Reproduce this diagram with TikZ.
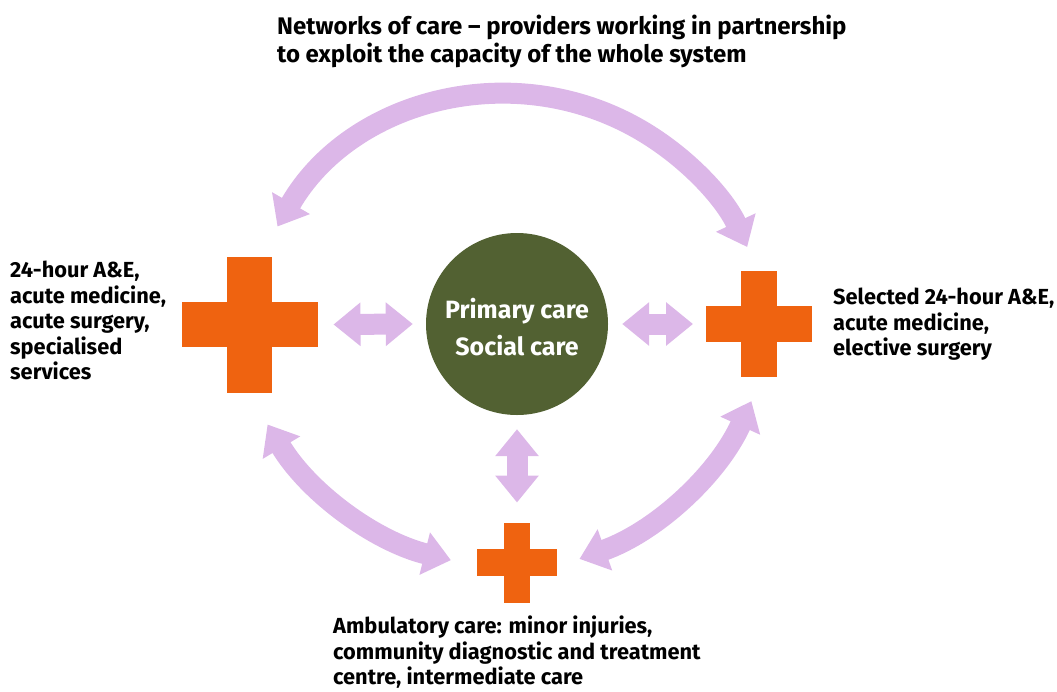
\documentclass[tikz,border=0pt]{standalone}
\usepackage{fontspec}
\setmainfont{Fira Sans}
\usetikzlibrary{arrows.meta,calc}
\definecolor{lilac}{RGB}{220,183,232}
\definecolor{crossorange}{RGB}{239,99,16}
\definecolor{olivegreen}{RGB}{82,97,50}
\newcommand\fillcross[1]{%
  \fill[crossorange] ($(#1.south west)!0.3333!(#1.south east)$) rectangle ($(#1.north west)!0.6667!(#1.north east)$);
  \fill[crossorange] ($(#1.south west)!0.3333!(#1.north west)$) rectangle ($(#1.south east)!0.6667!(#1.north east)$);}
\tikzset{
  dblarrow/.style={draw=lilac, line width=21pt,
    {Triangle[width=42pt,length=27pt]}-{Triangle[width=42pt,length=27pt]}},
  crossbox/.style={inner sep=0pt, outer sep=0pt, minimum size=#1},
  lbl/.style={anchor=north west, inner sep=0pt, align=left,
    font=\fontsize{21.8}{25.5}\selectfont\bfseries},
  ttl/.style={anchor=north west, inner sep=0pt, align=left,
    font=\fontsize{24}{28}\selectfont\bfseries},
  hubstyle/.style={circle, fill=olivegreen, minimum size=182pt, inner sep=0pt},
  hubtext/.style={text=white, align=center, inner sep=0pt,
    font=\fontsize{25}{37}\selectfont\bfseries}
}
\begin{document}
\begin{tikzpicture}[x=1pt,y=1pt]
\useasboundingbox (0,0) rectangle (1057,-691);
% crosses and hub
\node[crossbox=136] (bigcross) at (249.5,-324.5) {};
\node[crossbox=106] (rightcross) at (759,-324) {};
\node[crossbox=80] (smallcross) at (517,-562.5) {};
\fillcross{bigcross}
\fillcross{rightcross}
\fillcross{smallcross}
\node[hubstyle, label={[hubtext, yshift=-3pt]center:{Primary care\\Social care}}] (hub) at (517,-324) {};
% straight double arrows
\draw[dblarrow] ([xshift=16pt]bigcross.east) -- ([xshift=-13pt]hub.west);
\draw[dblarrow] ([xshift=14pt]hub.east) -- ([xshift=-13pt]rightcross.west);
\draw[dblarrow] ([yshift=-14pt]hub.south) -- ([yshift=20pt]smallcross.north);
% curved double arrows
\coordinate (topc) at (507,-359);
\coordinate (llc) at (523,-271);
\coordinate (lrc) at (480,-278);
\draw[dblarrow] ($(topc)+(150:265)$) arc[start angle=150, end angle=25, radius=265];
\draw[dblarrow] ($(llc)+(211:298)$) arc[start angle=211, end angle=256, radius=298];
\draw[dblarrow] ($(lrc)+(-70.5:298)$) arc[start angle=-70.5, end angle=-24.4, radius=298];
% texts
\node[ttl] (title) at (277,-15) {Networks of care – providers working in partnership\\to exploit the capacity of the whole system};
\node[lbl] (leftlbl) at (10,-261) {24-hour A\&E,\\acute medicine,\\acute surgery,\\specialised\\services};
\node[lbl] (rightlbl) at (833,-288) {Selected 24-hour A\&E,\\acute medicine,\\elective surgery};
\node[lbl] (bottomlbl) at (333,-616) {Ambulatory care: minor injuries,\\community diagnostic and treatment\\centre, intermediate care};
\end{tikzpicture}
\end{document}
